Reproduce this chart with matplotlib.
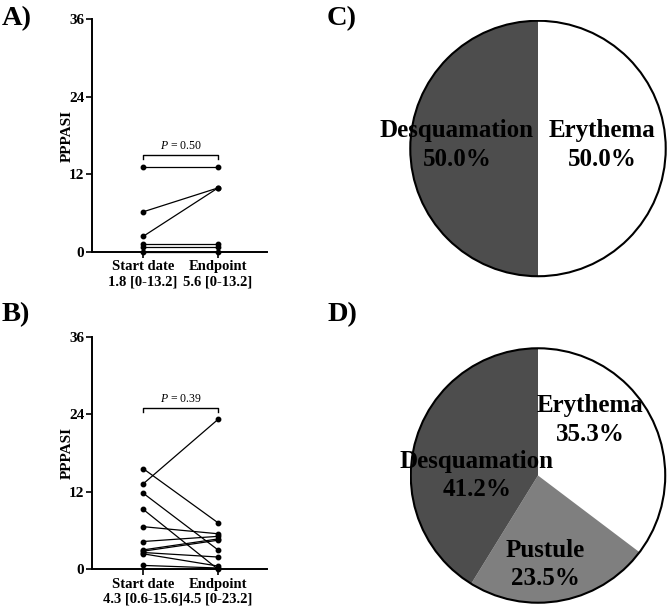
import matplotlib
matplotlib.use('Agg')
import matplotlib.pyplot as plt
from matplotlib.patches import Circle

plt.rcParams['font.family'] = ['Liberation Serif', 'DejaVu Serif']
plt.rcParams['mathtext.fontset'] = 'custom'
plt.rcParams['mathtext.rm'] = 'Liberation Serif'
plt.rcParams['mathtext.it'] = 'Liberation Serif:italic'

# ---------------- data ----------------
timepoints = ['Start date', 'Endpoint']
y_ticks = [0, 12, 24, 36]

a_start = [13.2, 6.2, 2.4, 1.2, 0.7, 0.0]
a_end = [13.2, 9.9, 9.9, 1.2, 0.7, 0.0]
a_summary = ['1.8 [0-13.2]', '5.6 [0-13.2]']
a_p = '0.50'

b_start = [15.6, 13.2, 11.8, 9.3, 6.6, 4.3, 3.0, 2.8, 2.6, 2.4, 0.6]
b_end = [7.2, 23.2, 3.0, 0.0, 5.5, 5.1, 4.7, 4.5, 1.9, 0.5, 0.2]
b_summary = ['4.3 [0.6-15.6]', '4.5 [0-23.2]']
b_p = '0.39'

c_labels = ['Erythema', 'Desquamation']
c_values = [50.0, 50.0]
d_labels = ['Erythema', 'Pustule', 'Desquamation']
d_values = [35.3, 23.5, 41.2]

colors = {'Erythema': '#ffffff', 'Pustule': '#7f7f7f', 'Desquamation': '#4d4d4d'}

W, H = 669, 607
fig = plt.figure(figsize=(W / 100, H / 100), dpi=100)


def px_axes(x0, y0, x1, y1):
    return fig.add_axes([x0 / W, 1 - y1 / H, (x1 - x0) / W, (y1 - y0) / H])


def dot_panel(ax, start, end, summary, p, bracket_y, p_y):
    for s, e in zip(start, end):
        ax.plot([0, 1], [s, e], color='k', lw=0.9, marker='o', ms=3.2,
                clip_on=False, zorder=3)
    ax.set_xlim(-0.68, 1.653)
    ax.set_ylim(0, 36)
    ax.set_yticks(y_ticks)
    ax.set_yticklabels([str(t) for t in y_ticks], fontweight='bold', fontsize=11)
    ax.set_xticks([0, 1])
    ax.set_xticklabels([f'{t}\n{s}' for t, s in zip(timepoints, summary)],
                       fontweight='bold', fontsize=10.5, linespacing=1.2)
    ax.tick_params(axis='y', length=4.5, width=1.2, pad=1)
    ax.tick_params(axis='x', length=4, width=1.2, pad=2)
    for side in ['top', 'right']:
        ax.spines[side].set_visible(False)
    for side in ['left', 'bottom']:
        ax.spines[side].set_linewidth(1.4)
    ax.set_ylabel('PPPASI', fontweight='bold', fontsize=11, labelpad=-3.5)
    ax.plot([0, 0, 1, 1], [bracket_y - 0.6, bracket_y, bracket_y, bracket_y - 0.6],
            color='k', lw=1.0)
    ax.text(0.5, p_y, f'$P$ = {p}', ha='center', va='center', fontsize=8.5)


axA = px_axes(92, 19, 267, 252)
dot_panel(axA, a_start, a_end, a_summary, a_p, 15.0, 16.4)
axB = px_axes(92, 336.7, 267, 569.3)
dot_panel(axB, b_start, b_end, b_summary, b_p, 24.9, 26.3)


def pie_panel(ax, labels, values, label_pos):
    ax.pie(values, colors=[colors[l] for l in labels], startangle=90,
           counterclock=False, radius=1, wedgeprops=dict(linewidth=0))
    ax.add_patch(Circle((0, 0), 1, fill=False, ec='k', lw=1.5))
    ax.set_xlim(-1.01, 1.01)
    ax.set_ylim(-1.01, 1.01)
    for l, v in zip(labels, values):
        x, y = label_pos[l]
        ax.text(x, y, f'{l}\n{v:.1f}%', ha='center', va='center',
                fontsize=18, fontweight='bold', linespacing=1.3)


axC = px_axes(409, 19.5, 667, 277.5)
pie_panel(axC, c_labels, c_values,
          {'Erythema': (0.50, 0.027), 'Desquamation': (-0.635, 0.027)})
axD = px_axes(409.5, 347, 666.5, 604)
pie_panel(axD, d_labels, d_values,
          {'Erythema': (0.41, 0.435), 'Desquamation': (-0.48, 0.0),
           'Pustule': (0.055, -0.70)})

for lab, x, y in [('A)', 2, 25), ('B)', 2, 321), ('C)', 327, 25), ('D)', 327, 321)]:
    fig.text(x / W, 1 - y / H, lab, fontsize=20.5, fontweight='bold',
             ha='left', va='baseline')

fig.savefig('out.png', dpi=100)
